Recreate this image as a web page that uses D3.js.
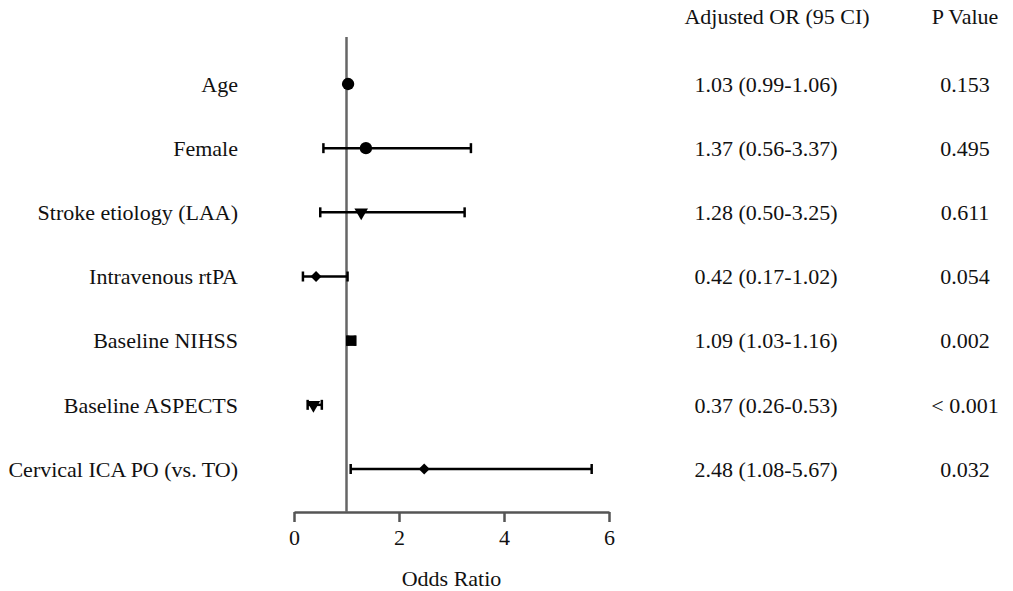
<!DOCTYPE html>
<html>
<head>
<meta charset="utf-8">
<script src="https://cdn.jsdelivr.net/npm/d3@7"></script>
<style>
  body { margin: 0; background: #fff; }
  text { font-family: "Liberation Serif", "Times New Roman", serif; fill: #111; }
</style>
</head>
<body>
<div id="chart"></div>
<script>
// 数据
const labels = ["Age", "Female", "Stroke etiology (LAA)", "Intravenous rtPA", "Baseline NIHSS", "Baseline ASPECTS", "Cervical ICA PO (vs. TO)"];
const orValues = [1.03, 1.37, 1.28, 0.42, 1.09, 0.37, 2.48];
const ciLow = [0.99, 0.56, 0.50, 0.17, 1.03, 0.26, 1.08];
const ciHigh = [1.06, 3.37, 3.25, 1.02, 1.16, 0.53, 5.67];
const markerTypes = ["circle", "circle", "triangleDown", "diamond", "square", "triangleDown", "diamond"];
const orText = ["1.03 (0.99-1.06)", "1.37 (0.56-3.37)", "1.28 (0.50-3.25)", "0.42 (0.17-1.02)", "1.09 (1.03-1.16)", "0.37 (0.26-0.53)", "2.48 (1.08-5.67)"];
const pText = ["0.153", "0.495", "0.611", "0.054", "0.002", "< 0.001", "0.032"];
const xTicks = [0, 2, 4, 6];

const width = 1013, height = 591;
const fs = '22px';
const svg = d3.select('#chart').append('svg')
    .attr('width', width)
    .attr('height', height);

// 比例尺
const x = d3.scaleLinear().domain([0, 6]).range([294, 609]);
const y = d3.scalePoint().domain(labels).range([84, 469]);

// 坐标轴
const axisY = 512;
const axis = svg.append('g')
    .attr('transform', `translate(0,${axisY})`)
    .call(d3.axisBottom(x).tickValues(xTicks).tickFormat(d3.format('d'))
        .tickSize(10).tickPadding(7).tickSizeOuter(0));
axis.select('.domain').attr('stroke', '#555').attr('stroke-width', 2.5);
axis.selectAll('.tick line').attr('stroke', '#555').attr('stroke-width', 2.5);
axis.selectAll('.tick text')
    .style('font-family', '"Liberation Serif", serif')
    .style('font-size', fs)
    .attr('fill', '#111');

svg.append('text')
    .attr('x', (x(0) + x(6)) / 2)
    .attr('y', 578)
    .attr('dy', '0.35em')
    .attr('text-anchor', 'middle')
    .style('font-size', fs)
    .text('Odds Ratio');

// 参考线 OR = 1
svg.append('line')
    .attr('x1', x(1)).attr('x2', x(1))
    .attr('y1', 37).attr('y2', axisY)
    .attr('stroke', '#666')
    .attr('stroke-width', 2.5);

// 行标签
svg.append('g').selectAll('text')
    .data(labels)
    .join('text')
    .attr('x', 238)
    .attr('y', d => y(d))
    .attr('dy', '0.35em')
    .attr('text-anchor', 'end')
    .style('font-size', fs)
    .text(d => d);

// 置信区间
const rows = labels.map((d, i) => ({ label: d, or: orValues[i], lo: ciLow[i], hi: ciHigh[i], m: markerTypes[i] }));
const ci = svg.append('g').attr('stroke', '#000').attr('stroke-width', 2.5);
rows.forEach(r => {
    const cy = y(r.label);
    ci.append('line').attr('x1', x(r.lo)).attr('x2', x(r.hi)).attr('y1', cy).attr('y2', cy);
    ci.append('line').attr('x1', x(r.lo)).attr('x2', x(r.lo)).attr('y1', cy - 5).attr('y2', cy + 5);
    ci.append('line').attr('x1', x(r.hi)).attr('x2', x(r.hi)).attr('y1', cy - 5).attr('y2', cy + 5);
});

// 标记
const symbolMap = {
    circle: d3.symbol().type(d3.symbolCircle).size(120),
    square: d3.symbol().type(d3.symbolSquare).size(110),
    diamond: d3.symbol().type(d3.symbolSquare).size(60),
    triangleDown: d3.symbol().type(d3.symbolTriangle).size(80)
};
const rot = { triangleDown: ' rotate(180)', diamond: ' rotate(45)' };
svg.append('g').selectAll('path')
    .data(rows)
    .join('path')
    .attr('d', d => symbolMap[d.m]())
    .attr('transform', d => `translate(${x(d.or)},${y(d.label)})` + (rot[d.m] || ''))
    .attr('fill', '#000');

// 表格
const orCol = 766, pCol = 965;
svg.append('text').attr('x', 777).attr('y', 16).attr('dy', '0.35em')
    .attr('text-anchor', 'middle').style('font-size', fs).text('Adjusted OR (95 CI)');
svg.append('text').attr('x', pCol).attr('y', 16).attr('dy', '0.35em')
    .attr('text-anchor', 'middle').style('font-size', fs).text('P Value');

svg.append('g').selectAll('text')
    .data(orText)
    .join('text')
    .attr('x', orCol)
    .attr('y', (d, i) => y(labels[i]))
    .attr('dy', '0.35em')
    .attr('text-anchor', 'middle')
    .style('font-size', fs)
    .text(d => d);

svg.append('g').selectAll('text')
    .data(pText)
    .join('text')
    .attr('x', pCol)
    .attr('y', (d, i) => y(labels[i]))
    .attr('dy', '0.35em')
    .attr('text-anchor', 'middle')
    .style('font-size', fs)
    .text(d => d);
</script>
</body>
</html>
